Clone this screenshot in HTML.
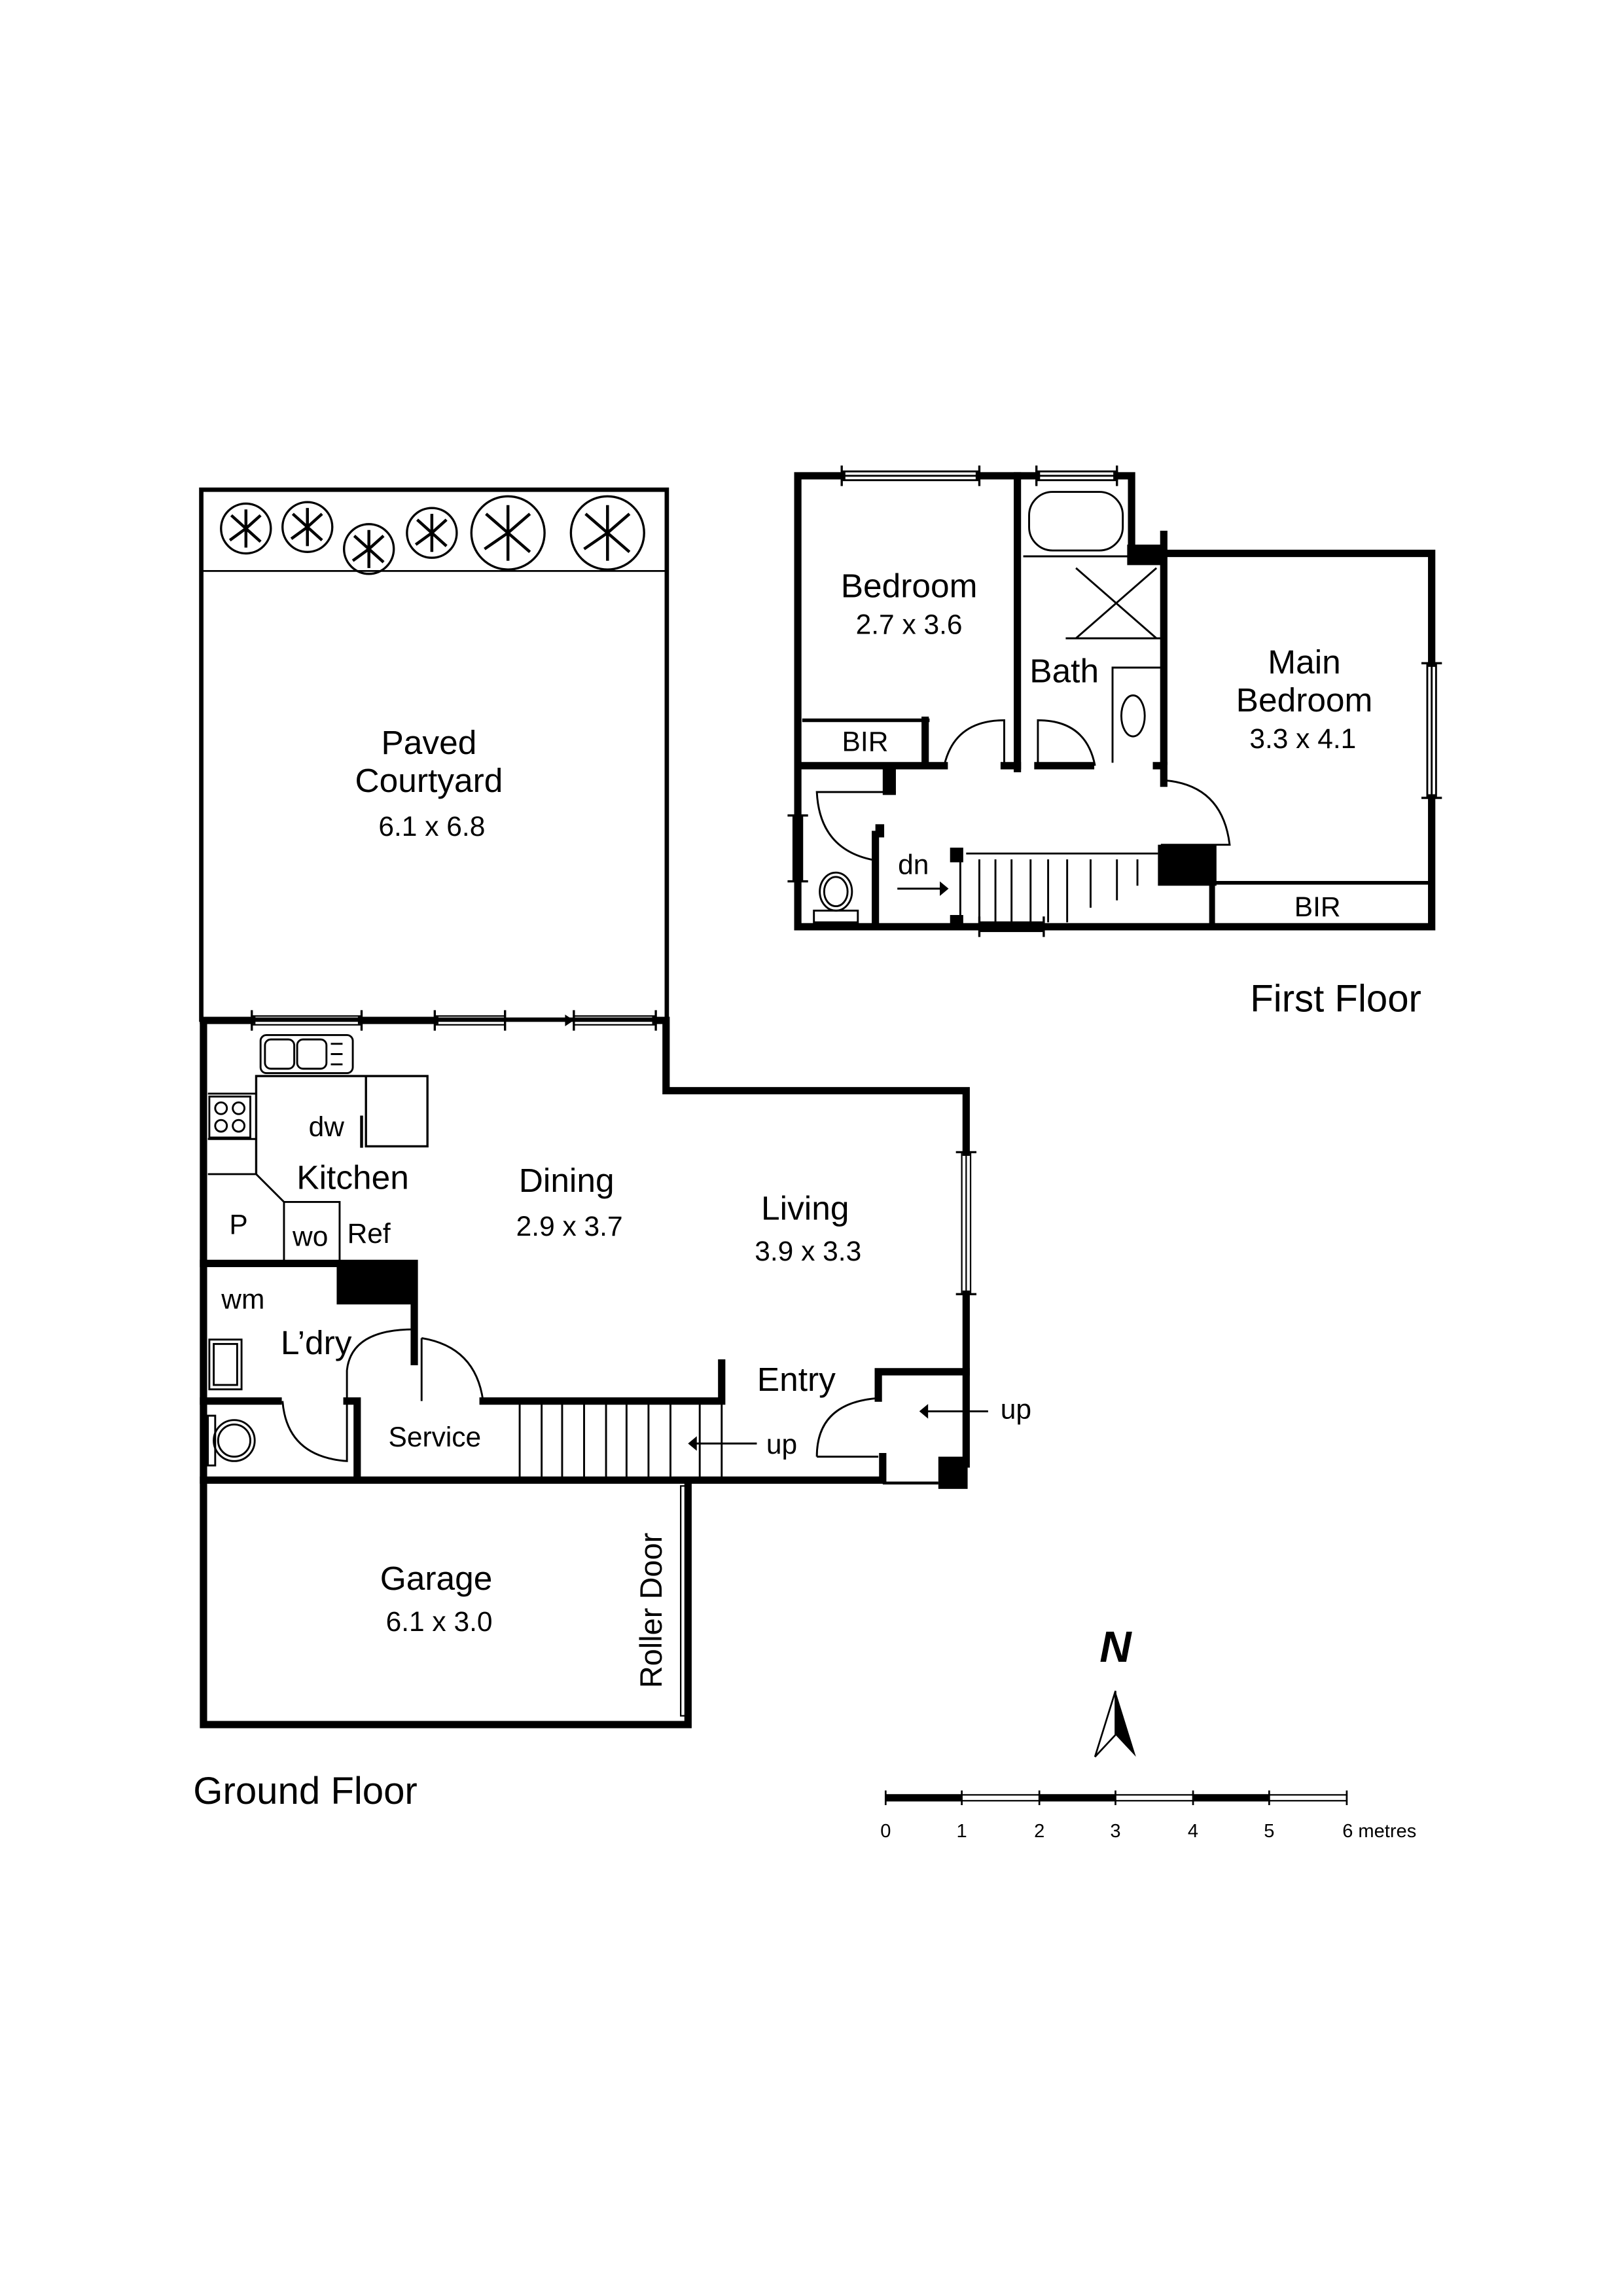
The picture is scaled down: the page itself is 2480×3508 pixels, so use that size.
<!DOCTYPE html>
<html><head><meta charset="utf-8"><style>
html,body{margin:0;padding:0;background:#fff}
svg{display:block}
text{font-family:"Liberation Sans",sans-serif;fill:#000}
</style></head><body>
<svg width="2480" height="3508" viewBox="0 0 1108.7 1568.3" preserveAspectRatio="none" xmlns="http://www.w3.org/2000/svg">
<rect width="1108.7" height="1568.3" fill="#fff"/>
<!-- Courtyard -->
<rect x="137.5" y="334.5" width="318" height="362" fill="none" stroke="#000" stroke-width="3"/>
<line x1="137" y1="390" x2="455" y2="390" stroke="#000" stroke-width="1.2"/>
<g fill="none" stroke="#000" stroke-width="1.5">
<circle cx="168" cy="361" r="17"/><circle cx="210" cy="360" r="17"/><circle cx="252" cy="375" r="17"/>
<circle cx="295" cy="364" r="17"/><circle cx="347" cy="364" r="25"/><circle cx="415" cy="364" r="25"/>
</g>
<g stroke="#000" stroke-width="2" fill="none">
<path d="M168 361l-10-9M168 361l10-9M168 361l-11 8M168 361l10 9M168 361v-13M168 361v13"/>
<path d="M210 360l-10-9M210 360l10-9M210 360l-11 8M210 360l10 9M210 360v-13M210 360v13"/>
<path d="M252 375l-10-9M252 375l10-9M252 375l-11 8M252 375l10 9M252 375v-13M252 375v13"/>
<path d="M295 364l-10-9M295 364l10-9M295 364l-11 8M295 364l10 9M295 364v-13M295 364v13"/>
<path d="M347 364l-15-13M347 364l15-13M347 364l-16 11M347 364l15 13M347 364v-19M347 364v19"/>
<path d="M415 364l-15-13M415 364l15-13M415 364l-16 11M415 364l15 13M415 364v-19M415 364v19"/>
</g>
<!-- Ground floor walls -->
<g stroke="#000" stroke-width="5" fill="none" stroke-linecap="square">
<path d="M139 697H172M247 697H297M448 697H455V745H660V787M660 884V937H600V955"/>
<path d="M139 697V1178H470V1013"/>
<path d="M139 1011H603V995"/>
<path d="M139 863H283V930"/>
<path d="M139 957H190M237 957H244V1011M330 957H493V931"/>
<path d="M660 937V1000"/>
</g>
<rect x="465" y="1015" width="5" height="157" fill="none" stroke="#000" stroke-width="1"/>
<rect x="230" y="863" width="53" height="28" fill="#000"/>
<rect x="641" y="995" width="20" height="22" fill="#000"/>
<line x1="603" y1="1013" x2="641" y2="1013" stroke="#000" stroke-width="2"/>
<!-- windows ground -->
<g fill="none" stroke="#000" stroke-width="1">
<rect x="172" y="694" width="75" height="6"/><line x1="172" y1="697" x2="247" y2="697"/>
<rect x="297" y="694" width="48" height="6"/><line x1="297" y1="697" x2="345" y2="697"/>
<rect x="392" y="694" width="56" height="6"/><line x1="392" y1="697" x2="448" y2="697"/>
<line x1="345" y1="697" x2="390" y2="697"/>
<rect x="657" y="787" width="6" height="97"/><line x1="660" y1="787" x2="660" y2="884"/>
</g>
<g stroke="#000" stroke-width="1.5">
<line x1="172" y1="690" x2="172" y2="704"/><line x1="247" y1="690" x2="247" y2="704"/>
<line x1="297" y1="690" x2="297" y2="704"/><line x1="345" y1="690" x2="345" y2="704"/>
<line x1="392" y1="690" x2="392" y2="704"/><line x1="448" y1="690" x2="448" y2="704"/>
<line x1="653" y1="787" x2="667" y2="787"/><line x1="653" y1="884" x2="667" y2="884"/>
</g>
<path d="M386 693L392 697L386 701Z" fill="#000"/>
<!-- kitchen fixtures -->
<g fill="none" stroke="#000" stroke-width="1.3">
<rect x="178" y="707" width="63" height="26" rx="4"/>
<rect x="181" y="710" width="20" height="20" rx="4"/><rect x="203" y="710" width="20" height="20" rx="4"/>
<path d="M226 713h8M226 720h8M226 727h8"/>
<path d="M175 802V735H292V783H250V735" stroke-width="1.5"/>
<path d="M142 747H175M142 778H175M142 802H175L194 821V861M194 821H232V861"/>
<line x1="247" y1="762" x2="247" y2="784" stroke-width="2"/>
<rect x="143" y="749" width="28" height="28"/>
<circle cx="151" cy="757" r="4"/><circle cx="163" cy="757" r="4"/><circle cx="151" cy="769" r="4"/><circle cx="163" cy="769" r="4"/>
<rect x="143" y="915" width="22" height="34"/><rect x="146" y="918" width="16" height="28"/>
<rect x="142" y="967" width="5" height="34"/><ellipse cx="160" cy="984" rx="14" ry="14"/><ellipse cx="160" cy="984" rx="11" ry="11"/>
<path d="M237 957V936M237 936Q240 908 283 908V930"/>
<path d="M193 957Q196 995 237 998V957"/>
<path d="M288 914V957M288 914Q325 920 330 957"/>
<path d="M558 995H600M558 995Q558 958 600 955"/>
</g>
<!-- stairs ground -->
<g stroke="#000" stroke-width="1.3">
<line x1="355" y1="957" x2="355" y2="1011"/><line x1="370" y1="957" x2="370" y2="1011"/><line x1="384" y1="957" x2="384" y2="1011"/>
<line x1="399" y1="957" x2="399" y2="1011"/><line x1="414" y1="957" x2="414" y2="1011"/><line x1="428" y1="957" x2="428" y2="1011"/>
<line x1="443" y1="957" x2="443" y2="1011"/><line x1="458" y1="957" x2="458" y2="1011"/><line x1="478" y1="957" x2="478" y2="1011"/>
<line x1="493" y1="957" x2="493" y2="1011"/>
<line x1="472" y1="986" x2="517" y2="986"/><line x1="630" y1="964" x2="675" y2="964"/>
</g>
<path d="M470 986l6-5v10z M628 964l6-5v10z" fill="#000"/>
<!-- ground text -->
<g font-size="23" text-anchor="middle">
<text x="293" y="515">Paved</text><text x="293" y="541">Courtyard</text>
<text x="241" y="812">Kitchen</text><text x="387" y="814">Dining</text><text x="550" y="833">Living</text>
<text x="216" y="925">L’dry</text><text x="544" y="950">Entry</text><text x="298" y="1086">Garage</text>
</g>
<g font-size="19" text-anchor="middle">
<text x="295" y="571">6.1 x 6.8</text><text x="389" y="844">2.9 x 3.7</text><text x="552" y="861">3.9 x 3.3</text>
<text x="300" y="1114">6.1 x 3.0</text>
<text x="223" y="776">dw</text><text x="163" y="843">P</text><text x="212" y="851">wo</text><text x="252" y="849">Ref</text>
<text x="166" y="894">wm</text><text x="297" y="988">Service</text><text x="534" y="993">up</text><text x="694" y="969">up</text>
</g>
<text x="452" y="1100" font-size="21" text-anchor="middle" transform="rotate(-90 452 1100)">Roller Door</text>
<text x="132" y="1232" font-size="26">Ground Floor</text>
<!-- First floor walls -->
<g stroke="#000" stroke-width="5" fill="none" stroke-linecap="square">
<path d="M575 325H545V633H978V545M978 453V378H795"/>
<path d="M669 325H708M763 325H773V378H795V365"/>
<path d="M695 325V525M795 378V520"/>
<path d="M548 523H645M686 523H695M709 523H745M790 523H795V535"/>
<path d="M632 492V523"/>
<path d="M598 570V633"/>
</g>
<rect x="770" y="372" width="27" height="14" fill="#000"/>
<g stroke="#000" stroke-width="2.5" fill="none">
<line x1="548" y1="492" x2="635" y2="492"/>
<line x1="830" y1="603" x2="976" y2="603"/>
<line x1="828" y1="603" x2="828" y2="633" stroke-width="4"/>
</g>
<rect x="791" y="577" width="40" height="28" fill="#000"/>
<rect x="649" y="579" width="9" height="10" fill="#000"/>
<rect x="649" y="625" width="9" height="10" fill="#000"/>
<g fill="none" stroke="#000" stroke-width="1.3">
<line x1="660" y1="583" x2="791" y2="583"/>
<line x1="656" y1="583" x2="656" y2="630"/>
<path d="M669 587V630M680 587V630M691 587V630M704 587V630M716 587V630M729 587V630M745 587V620M763 587V615M777 587V605"/>
<line x1="613" y1="607" x2="645" y2="607"/>
<rect x="575" y="322" width="94" height="6"/><line x1="575" y1="325" x2="669" y2="325"/>
<rect x="708" y="322" width="55" height="6"/><line x1="708" y1="325" x2="763" y2="325"/>
<rect x="975" y="453" width="6" height="92"/><line x1="978" y1="453" x2="978" y2="545"/>
<rect x="542" y="557" width="6" height="45"/>
<rect x="669" y="630" width="44" height="6"/>
<rect x="703" y="336" width="64" height="40" rx="16"/>
<path d="M699 380H773"/>
<path d="M735 388L790 436M790 388L735 436M728 436H795"/>
<path d="M760 521V456H795"/>
<ellipse cx="774" cy="489" rx="8" ry="14"/>
<rect x="556" y="622" width="30" height="8"/><ellipse cx="571" cy="609" rx="11" ry="13"/><ellipse cx="571" cy="609" rx="8" ry="10"/>
<path d="M686 521V492Q652 492 645 523"/>
<path d="M709 521V492Q742 492 748 523"/>
<path d="M612 541H558Q560 582 600 588"/>
<path d="M795 533Q835 536 840 577H793"/>
</g>
<g stroke="#000" stroke-width="1.5">
<line x1="575" y1="318" x2="575" y2="332"/><line x1="669" y1="318" x2="669" y2="332"/>
<line x1="708" y1="318" x2="708" y2="332"/><line x1="763" y1="318" x2="763" y2="332"/>
<line x1="971" y1="453" x2="985" y2="453"/><line x1="971" y1="545" x2="985" y2="545"/>
<line x1="538" y1="557" x2="552" y2="557"/><line x1="538" y1="602" x2="552" y2="602"/>
<line x1="669" y1="626" x2="669" y2="640"/><line x1="713" y1="626" x2="713" y2="640"/>
</g>
<rect x="603" y="523" width="9" height="20" fill="#000"/>
<rect x="598" y="563" width="6" height="9" fill="#000"/>
<path d="M648 607l-6-5v10z" fill="#000"/>
<g font-size="23" text-anchor="middle">
<text x="621" y="408">Bedroom</text><text x="727" y="466">Bath</text>
<text x="891" y="460">Main</text><text x="891" y="486">Bedroom</text>
</g>
<g font-size="19" text-anchor="middle">
<text x="621" y="433">2.7 x 3.6</text><text x="890" y="511">3.3 x 4.1</text>
<text x="591" y="513">BIR</text><text x="900" y="626">BIR</text><text x="624" y="597">dn</text>
</g>
<text x="854" y="691" font-size="26">First Floor</text>
<!-- compass -->
<text x="762" y="1135" font-size="30" font-weight="bold" font-style="italic" text-anchor="middle">N</text>
<path d="M762 1155L776 1200L762 1185Z" fill="#000"/>
<path d="M762 1155L748 1200L762 1185Z" fill="none" stroke="#000" stroke-width="1.2"/>
<!-- scale -->
<rect x="605" y="1226" width="315" height="4" fill="#fff" stroke="#000" stroke-width="1"/>
<rect x="605" y="1226" width="52" height="4" fill="#000"/><rect x="710" y="1226" width="52" height="4" fill="#000"/><rect x="815" y="1226" width="52" height="4" fill="#000"/>
<g stroke="#000" stroke-width="1.2">
<path d="M605 1223v10M657 1223v10M710 1223v10M762 1223v10M815 1223v10M867 1223v10M920 1223v10"/>
</g>
<g font-size="13" text-anchor="middle">
<text x="605" y="1255">0</text><text x="657" y="1255">1</text><text x="710" y="1255">2</text><text x="762" y="1255">3</text>
<text x="815" y="1255">4</text><text x="867" y="1255">5</text>
</g>
<text x="917" y="1255" font-size="13">6 metres</text>
</svg>
</body></html>
